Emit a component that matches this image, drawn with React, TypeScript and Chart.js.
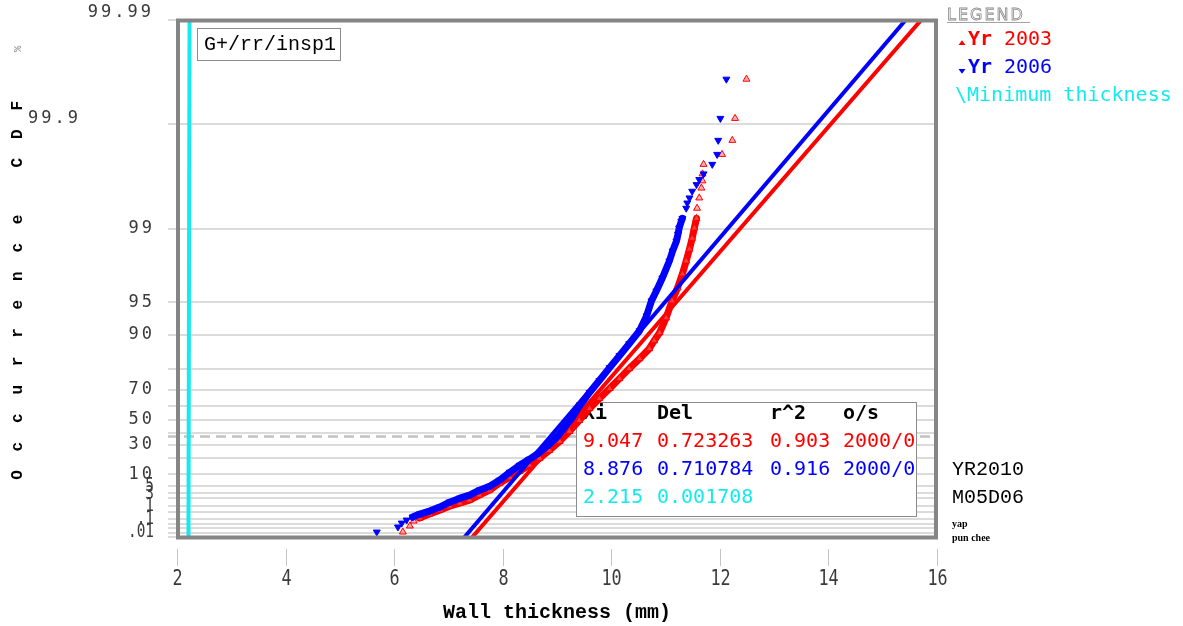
import { useEffect, useRef } from "react";
import { Chart, registerables } from "chart.js";

Chart.register(...registerables);

// Axis definitions (Gumbel probability paper: wall thickness vs occurrence CDF)
const thicknessRange = [2, 16];
const thicknessTicks = [2, 4, 6, 8, 10, 12, 14, 16];
const cdfRange = [0.01, 99.99];
const cdfTicks = [99.99, 99.9, 99, 95, 90, 70, 50, 30, 10, 5, 3, 1, 0.1, 0.01];
const cdfTickLabels = ["99.99", "99.9", "99", "95", "90", "70", "50", "30", "10", "5", "3", "1", ".1", ".01"];
const cdfGridLines = [99.9, 99, 95, 90, 80, 70, 60, 50, 40, 30, 20, 10, 5, 3, 2, 1, 0.5, 0.2, 0.1, 0.05, 0.02];

// Inspection 2003: ranked wall thickness (mm) and plotting position (%)
const yr2003Thickness = [
  6.16, 6.29, 6.36, 6.47, 6.65, 6.84, 7.02, 7.21, 7.39, 7.57,
  7.76, 7.94, 8.13, 8.31, 8.49, 8.68, 8.86, 9.05, 9.23, 9.41,
  9.60, 9.78, 9.97, 10.15, 10.33, 10.52, 10.70, 10.79, 10.89, 11.01,
  11.12, 11.22, 11.31, 11.38, 11.44, 11.49, 11.53, 11.57, 11.58, 11.62,
  11.66, 11.68, 11.68, 11.70, 12.04, 12.23, 12.28, 12.49,
];
const yr2003Cdf = [
  0.026, 0.073, 0.154, 0.233, 0.389, 0.62, 0.95, 1.28, 1.70, 2.60,
  3.80, 6.06, 8.57, 11.61, 15.17, 19.87, 25.80, 32.90, 40.99, 49.66,
  58.43, 64.98, 70.76, 75.77, 80.04, 83.64, 86.65, 88.68, 90.42, 93.02,
  95.14, 96.33, 97.29, 97.96, 98.43, 98.76, 99.01, 99.20, 99.36, 99.49,
  99.59, 99.65, 99.70, 99.757, 99.805, 99.857, 99.912, 99.963,
];

// Inspection 2006
const yr2006Thickness = [
  5.68, 6.07, 6.14, 6.23, 6.34, 6.47, 6.65, 6.84, 7.02, 7.21,
  7.39, 7.57, 7.76, 7.94, 8.13, 8.31, 8.49, 8.68, 8.86, 9.01,
  9.14, 9.27, 9.41, 9.60, 9.78, 9.97, 10.15, 10.33, 10.52, 10.65,
  10.74, 10.83, 10.94, 11.07, 11.13, 11.20, 11.23, 11.25, 11.29, 11.31,
  11.38, 11.40, 11.44, 11.49, 11.57, 11.62, 11.70, 11.86, 11.95, 11.97,
  12.01, 12.12,
];
const yr2006Cdf = [
  0.026, 0.062, 0.115, 0.178, 0.266, 0.389, 0.554, 0.86, 1.41, 2.02,
  2.60, 3.80, 5.00, 7.25, 11.07, 15.17, 19.17, 24.27, 30.51, 36.95,
  44.19, 51.18, 59.80, 68.55, 74.83, 80.43, 84.60, 87.95, 90.81, 93.30,
  95.14, 96.08, 97.04, 97.96, 98.36, 98.68, 98.87, 99.01, 99.15, 99.20,
  99.36, 99.43, 99.49, 99.56, 99.62, 99.66, 99.70, 99.757, 99.805, 99.857,
  99.912, 99.963,
];

// Gumbel fits: location Xi, scale Del, r^2, sample/outliers
const fitNames = ["Yr 2003", "Yr 2006", "Minimum thickness"];
const fitXi = [9.047, 8.876, 2.215];
const fitDel = [0.723263, 0.710784, 0.001708];
const fitR2 = [0.903, 0.916, null];
const fitSamples = ["2000/0", "2000/0", ""];

const plotTag = "G+/rr/insp1";
const stampLines = ["YR2010", "M05D06"];
const authorLines = ["yap", "pun chee"];
const xTitle = "Wall thickness (mm)";
const yTitle = "Occurrence CDF %";

const RED = "#ff0000";
const BLUE = "#0000ff";
const CYAN = "#14eaf0";
const seriesColors = [RED, BLUE, CYAN];

// reduced Gumbel variate for a cumulative percentage
const gumbel = (pct: number) => -Math.log(-Math.log(pct / 100));

// dense part of each sample is drawn as a continuous band
const BAND_LOW = 0.2;
const BAND_HIGH = 99.3;

const seriesPoints = (thk: number[], cdf: number[]) =>
  thk.map((t, i) => ({ x: t, y: gumbel(cdf[i]) }));

const fitPoints = (k: number) => {
  const lo = gumbel(cdfRange[0]);
  const hi = gumbel(cdfRange[1]);
  return [
    { x: fitXi[k] + fitDel[k] * lo, y: lo },
    { x: fitXi[k] + fitDel[k] * hi, y: hi },
  ];
};

const bandSegment = (cdf: number[]) => ({
  borderColor: (s: any) =>
    cdf[s.p0DataIndex] >= BAND_LOW && cdf[s.p1DataIndex] <= BAND_HIGH ? undefined : "rgba(0,0,0,0)",
});

function triangle(ctx: CanvasRenderingContext2D, x: number, y: number, r: number, down: boolean, color: string) {
  ctx.beginPath();
  if (down) {
    ctx.moveTo(x - r, y - r * 0.6);
    ctx.lineTo(x + r, y - r * 0.6);
    ctx.lineTo(x, y + r * 0.8);
  } else {
    ctx.moveTo(x - r, y + r * 0.6);
    ctx.lineTo(x + r, y + r * 0.6);
    ctx.lineTo(x, y - r * 0.8);
  }
  ctx.closePath();
  ctx.fillStyle = color;
  ctx.fill();
}

const paperPlugin = {
  id: "gumbelPaper",
  beforeDatasetsDraw(chart: any) {
    const { ctx, chartArea: a } = chart;
    const ys = chart.scales.y;
    const py = (pct: number) => ys.getPixelForValue(gumbel(pct));
    ctx.save();

    // probability grid
    ctx.strokeStyle = "#d0d0d0";
    ctx.lineWidth = 1.5;
    ctx.beginPath();
    for (const v of [...cdfGridLines, ...cdfRange]) {
      const y = Math.round(py(v));
      ctx.moveTo(a.left - 9, y);
      ctx.lineTo(a.right - 2, y);
    }
    ctx.stroke();

    // mode of the reduced variate (F = 1/e)
    const ym = py(100 * Math.exp(-1));
    ctx.setLineDash([10, 6]);
    ctx.strokeStyle = "#c2c2c2";
    ctx.lineWidth = 2.5;
    ctx.beginPath();
    ctx.moveTo(a.left - 9, ym);
    ctx.lineTo(a.right - 2, ym);
    ctx.stroke();
    ctx.setLineDash([]);

    // fit table
    ctx.fillStyle = "#ffffff";
    ctx.fillRect(576, 402, 341, 115);
    ctx.strokeStyle = "#8c8c8c";
    ctx.lineWidth = 1;
    ctx.strokeRect(576.5, 402.5, 340, 114);
    const cols = [583, 657, 770, 843];
    ctx.textBaseline = "middle";
    ctx.textAlign = "left";
    ctx.font = 'bold 20px "DejaVu Sans Mono"';
    ctx.fillStyle = "#000";
    ["Xi", "Del", "r^2", "o/s"].forEach((h, i) => ctx.fillText(h, cols[i], 414));
    ctx.font = '20px "DejaVu Sans Mono"';
    fitXi.forEach((xi, k) => {
      const r2 = fitR2[k];
      const cells = [xi.toFixed(3), fitDel[k].toFixed(6), r2 == null ? "" : r2.toFixed(3), fitSamples[k]];
      ctx.fillStyle = seriesColors[k];
      cells.forEach((c, i) => ctx.fillText(c, cols[i], 442 + 28 * k));
    });

    // plot tag
    ctx.fillStyle = "#ffffff";
    ctx.fillRect(197, 28, 143, 32);
    ctx.strokeStyle = "#8c8c8c";
    ctx.strokeRect(197.5, 28.5, 143, 32);
    ctx.fillStyle = "#000";
    ctx.font = '20px "Liberation Mono"';
    ctx.fillText(plotTag, 204, 45);

    ctx.restore();
  },
  afterDatasetsDraw(chart: any) {
    const { ctx, chartArea: a } = chart;
    ctx.save();
    ctx.strokeStyle = "#858585";
    ctx.lineWidth = 4;
    ctx.strokeRect(a.left + 1, a.top + 0.5, a.right - a.left - 2, a.bottom - a.top);
    ctx.restore();
  },
  afterDraw(chart: any) {
    const { ctx, chartArea: a } = chart;
    const xs = chart.scales.x;
    const ys = chart.scales.y;
    const py = (pct: number) => ys.getPixelForValue(gumbel(pct));
    ctx.save();
    ctx.textBaseline = "middle";

    // x ticks
    ctx.strokeStyle = "#c4c4c4";
    ctx.lineWidth = 1;
    ctx.fillStyle = "#3a3a3a";
    for (const t of thicknessTicks) {
      const px = Math.round(xs.getPixelForValue(t)) + 0.5;
      ctx.beginPath();
      ctx.moveTo(px, a.bottom + 12);
      ctx.lineTo(px, a.bottom + 29);
      ctx.stroke();
      ctx.save();
      ctx.translate(px, a.bottom + 43);
      ctx.scale(0.8, 1);
      ctx.font = '21px "DejaVu Sans Mono"';
      ctx.textAlign = "center";
      ctx.fillText(String(t), 0, 0);
      ctx.restore();
    }

    // y tick labels
    ctx.fillStyle = "#3a3a3a";
    cdfTicks.forEach((v, i) => {
      const text = cdfTickLabels[i];
      let y = py(v);
      if (v < 10) {
        if (v <= 0.1) y -= 5;
        ctx.save();
        ctx.translate(a.left - 23, y);
        ctx.scale(0.72, 1);
        ctx.font = '20px "DejaVu Sans Mono"';
        ctx.textAlign = "right";
        ctx.fillText(text, 0, 0);
        ctx.restore();
      } else {
        let right = a.left - 25;
        if (v === 99.99) {
          y -= 7;
          right = a.left - 26;
        }
        if (v === 99.9) {
          y -= 6;
          right = a.left - 99;
        }
        ctx.font = '17px "DejaVu Sans Mono"';
        ctx.letterSpacing = "3px";
        ctx.textAlign = "right";
        ctx.fillText(text, right + 3, y);
        ctx.letterSpacing = "0px";
      }
    });

    // axis titles
    ctx.fillStyle = "#000";
    ctx.textAlign = "center";
    ctx.font = 'bold 20px "Liberation Mono"';
    ctx.fillText(xTitle, (a.left + a.right) / 2, 613);

    Array.from(yTitle).forEach((ch, i) => {
      if (ch === " ") return;
      ctx.save();
      ctx.translate(18, 475 - 28.4 * i);
      ctx.rotate(-Math.PI / 2);
      if (ch === "%") {
        ctx.font = 'bold 11px "Liberation Mono"';
        ctx.fillStyle = "#9a9a9a";
      } else {
        ctx.font = 'bold 16px "Liberation Mono"';
        ctx.fillStyle = "#000";
      }
      ctx.fillText(ch, 0, 0);
      ctx.restore();
    });

    // legend
    ctx.textAlign = "left";
    ctx.font = '16px "DejaVu Sans"';
    ctx.letterSpacing = "2px";
    ctx.strokeStyle = "#8a8a8a";
    ctx.lineWidth = 0.8;
    ctx.textBaseline = "alphabetic";
    ctx.strokeText("LEGEND", 947, 20);
    ctx.letterSpacing = "0px";
    ctx.beginPath();
    ctx.moveTo(947, 22.5);
    ctx.lineTo(1030, 22.5);
    ctx.stroke();

    ctx.textBaseline = "middle";
    triangle(ctx, 962, 43, 3.5, false, RED);
    triangle(ctx, 962, 71, 3.5, true, BLUE);
    [0, 1].forEach((k) => {
      const y = 40 + 28 * k;
      const [word, year] = fitNames[k].split(" ");
      ctx.fillStyle = seriesColors[k];
      ctx.font = 'bold 20px "DejaVu Sans Mono"';
      ctx.fillText(word, 968, y);
      ctx.font = '20px "DejaVu Sans Mono"';
      ctx.fillText(year, 1004, y);
    });
    ctx.fillStyle = CYAN;
    ctx.font = '20px "DejaVu Sans Mono"';
    ctx.fillText("\\" + fitNames[2], 955, 96);

    // run stamp and authors
    ctx.fillStyle = "#000";
    ctx.font = '20px "Liberation Mono"';
    stampLines.forEach((s, i) => ctx.fillText(s, 952, 470 + 28 * i));
    ctx.font = 'bold 10px "Liberation Serif"';
    authorLines.forEach((s, i) => ctx.fillText(s, 952, 524 + 14 * i));

    ctx.restore();
  },
};

export default function App() {
  const canvasRef = useRef<HTMLCanvasElement | null>(null);

  useEffect(() => {
    const canvas = canvasRef.current;
    if (!canvas) return;
    const chart = new Chart(canvas, {
      type: "line",
      data: {
        datasets: [
          {
            label: "Minimum thickness fit",
            data: fitPoints(2),
            borderColor: CYAN,
            borderWidth: 4,
            pointRadius: 0,
            order: 6,
          },
          {
            label: "Yr 2003 fit",
            data: fitPoints(0),
            borderColor: RED,
            borderWidth: 4,
            pointRadius: 0,
            order: 5,
          },
          {
            label: "Yr 2003",
            data: seriesPoints(yr2003Thickness, yr2003Cdf),
            borderColor: RED,
            borderWidth: 7,
            borderJoinStyle: "round",
            borderCapStyle: "round",
            pointStyle: "triangle",
            pointRadius: 4,
            pointBorderColor: RED,
            pointBackgroundColor: "rgba(255,110,110,0.55)",
            pointBorderWidth: 1,
            segment: bandSegment(yr2003Cdf),
            order: 4,
          },
          {
            label: "Yr 2006 fit",
            data: fitPoints(1),
            borderColor: BLUE,
            borderWidth: 4,
            pointRadius: 0,
            order: 3,
          },
          {
            label: "Yr 2006",
            data: seriesPoints(yr2006Thickness, yr2006Cdf),
            borderColor: BLUE,
            borderWidth: 7,
            borderJoinStyle: "round",
            borderCapStyle: "round",
            pointStyle: "triangle",
            pointRotation: 180,
            pointRadius: 4,
            pointBorderColor: BLUE,
            pointBackgroundColor: BLUE,
            pointBorderWidth: 1,
            segment: bandSegment(yr2006Cdf),
            order: 2,
          },
        ],
      },
      options: {
        responsive: false,
        maintainAspectRatio: false,
        animation: false,
        events: [],
        layout: { padding: { left: 177, right: 246, top: 20, bottom: 89 } },
        plugins: { legend: { display: false }, tooltip: { enabled: false } },
        elements: { line: { tension: 0, fill: false } },
        scales: {
          x: { type: "linear", min: thicknessRange[0], max: thicknessRange[1], display: false },
          y: { type: "linear", min: gumbel(cdfRange[0]), max: gumbel(cdfRange[1]), display: false },
        },
      },
      plugins: [paperPlugin],
    } as any);
    return () => chart.destroy();
  }, []);

  return (
    <div style={{ position: "fixed", left: 0, top: 0, width: 1183, height: 626, background: "#fff" }}>
      <canvas ref={canvasRef} width={1183} height={626} style={{ display: "block" }} />
    </div>
  );
}
